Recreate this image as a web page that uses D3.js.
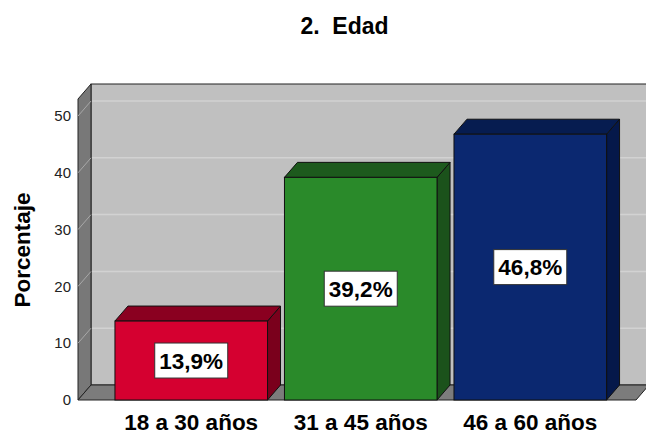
<!DOCTYPE html>
<html>
<head>
<meta charset="utf-8">
<script src="https://cdn.jsdelivr.net/npm/d3@7"></script>
<style>
  body { margin: 0; background: #fff; }
  text { font-family: "Liberation Sans", Arial, sans-serif; }
</style>
</head>
<body>
<svg id="chart" width="646" height="433"></svg>
<script>
// data
var categories = ["18 a 30 años", "31 a 45 años", "46 a 60 años"],
    percentages = [13.9, 39.2, 46.8],
    valueLabels = ["13,9%", "39,2%", "46,8%"],
    yTicks = [0, 10, 20, 30, 40, 50];

var frontColors = ["#d50030", "#2a8a2a", "#0b2870"],
    topColors = ["#8a0020", "#1d5a1d", "#061c50"],
    sideColors = ["#7a001c", "#1b521b", "#05184a"];

var svg = d3.select("#chart"),
    dx = 13, dy = 15,           // 3d depth offset
    plotLeft = 78, plotRight = 636,
    plotBase = 400, plotTop = 99;

var x = d3.scaleBand()
    .domain(categories)
    .range([98, 623.5])
    .paddingInner(0.1)
    .paddingOuter(0.1);

var y = d3.scaleLinear()
    .domain([0, 53])
    .range([plotBase, plotTop]);

var line = d3.line();

// back wall
svg.append("rect")
    .attr("x", plotLeft + dx)
    .attr("y", plotTop - dy)
    .attr("width", plotRight - plotLeft)
    .attr("height", plotBase - plotTop)
    .attr("fill", "#c0c0c0")
    .attr("stroke", "#222")
    .attr("stroke-width", 1);

// gridlines on back wall and side wall
var grid = svg.append("g");
grid.selectAll(".back")
    .data(yTicks.filter(function (d) { return d > 0; }))
    .enter()
    .append("line")
    .attr("x1", plotLeft + dx + 1)
    .attr("x2", plotRight + dx)
    .attr("y1", function (d) { return y(d) - dy; })
    .attr("y2", function (d) { return y(d) - dy; })
    .attr("stroke", "#d2d2d2")
    .attr("stroke-width", 1.5);

// left side wall
svg.append("path")
    .attr("d", line([[plotLeft, plotTop], [plotLeft + dx, plotTop - dy], [plotLeft + dx, plotBase - dy], [plotLeft, plotBase]]) + "Z")
    .attr("fill", "#787878")
    .attr("stroke", "#222");

grid.raise();
grid.selectAll(".side")
    .data(yTicks.filter(function (d) { return d > 0; }))
    .enter()
    .append("line")
    .attr("x1", plotLeft)
    .attr("x2", plotLeft + dx)
    .attr("y1", function (d) { return y(d); })
    .attr("y2", function (d) { return y(d) - dy; })
    .attr("stroke", "#a8a8a8")
    .attr("stroke-width", 1);

// floor
svg.append("path")
    .attr("d", line([[plotLeft, plotBase], [plotLeft + dx, plotBase - dy], [plotRight + dx, plotBase - dy], [plotRight, plotBase]]) + "Z")
    .attr("fill", "#7c7c7c")
    .attr("stroke", "#222");

// bars
var bars = svg.selectAll(".bar")
    .data(percentages)
    .enter()
    .append("g")
    .attr("class", "bar");

bars.append("path")
    .attr("d", function (d, i) {
        var bx = x(categories[i]), bw = x.bandwidth(), yv = y(d);
        return line([[bx + bw, yv], [bx + bw + dx, yv - dy], [bx + bw + dx, plotBase - dy], [bx + bw, plotBase]]) + "Z";
    })
    .attr("fill", function (d, i) { return sideColors[i]; })
    .attr("stroke", "#111");

bars.append("path")
    .attr("d", function (d, i) {
        var bx = x(categories[i]), bw = x.bandwidth(), yv = y(d);
        return line([[bx, yv], [bx + dx, yv - dy], [bx + bw + dx, yv - dy], [bx + bw, yv]]) + "Z";
    })
    .attr("fill", function (d, i) { return topColors[i]; })
    .attr("stroke", "#111");

bars.append("rect")
    .attr("x", function (d, i) { return x(categories[i]); })
    .attr("y", function (d) { return y(d); })
    .attr("width", x.bandwidth())
    .attr("height", function (d) { return plotBase - y(d); })
    .attr("fill", function (d, i) { return frontColors[i]; })
    .attr("stroke", "#111");

// value labels
bars.append("rect")
    .attr("x", function (d, i) { return x(categories[i]) + x.bandwidth() / 2 - 36.5; })
    .attr("y", function (d) { return (y(d) + plotBase) / 2 - 17.5; })
    .attr("width", 73)
    .attr("height", 35)
    .attr("fill", "#fff")
    .attr("stroke", "#333");

bars.append("text")
    .attr("x", function (d, i) { return x(categories[i]) + x.bandwidth() / 2; })
    .attr("y", function (d) { return (y(d) + plotBase) / 2; })
    .attr("dy", "0.36em")
    .attr("text-anchor", "middle")
    .style("font-size", "22.5px")
    .style("font-weight", "bold")
    .text(function (d, i) { return valueLabels[i]; });

// y tick labels
svg.append("g")
    .selectAll("text")
    .data(yTicks)
    .enter()
    .append("text")
    .attr("x", 71)
    .attr("y", function (d) { return y(d); })
    .attr("dy", "0.35em")
    .attr("text-anchor", "end")
    .style("font-size", "15px")
    .style("fill", "#222")
    .text(function (d) { return d; });

// x category labels
svg.append("g")
    .selectAll("text")
    .data(categories)
    .enter()
    .append("text")
    .attr("x", function (d) { return x(d) + x.bandwidth() / 2; })
    .attr("y", 430)
    .attr("text-anchor", "middle")
    .style("font-size", "22.5px")
    .style("font-weight", "bold")
    .text(function (d) { return d; });

// axis title
svg.append("text")
    .attr("transform", "translate(30,250) rotate(-90)")
    .attr("text-anchor", "middle")
    .style("font-size", "22.5px")
    .style("font-weight", "bold")
    .text("Porcentaje");

// chart title
svg.append("text")
    .attr("x", 344.5)
    .attr("y", 34)
    .attr("text-anchor", "middle")
    .style("font-size", "23px")
    .style("font-weight", "bold")
    .text("2.\u00a0\u00a0Edad");
</script>
</body>
</html>
